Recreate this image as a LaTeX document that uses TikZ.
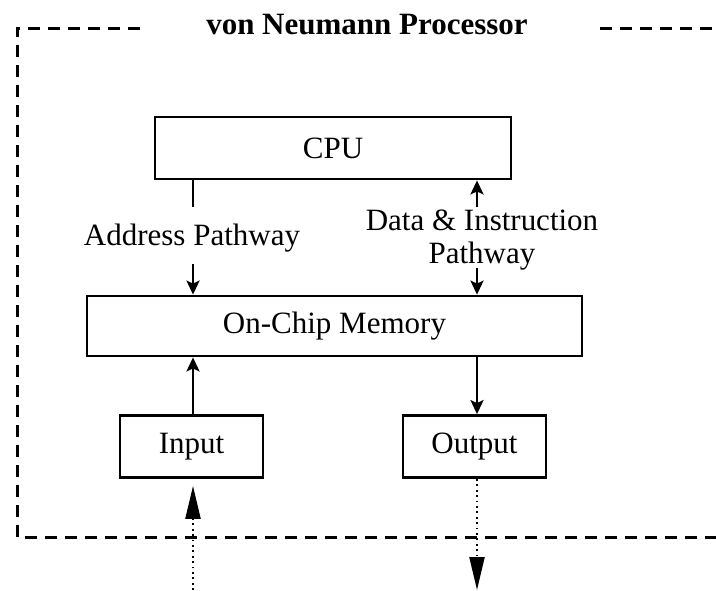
\documentclass[tikz,border=0pt]{standalone}
\usepackage{fontspec}
\setmainfont{Liberation Serif}
\usetikzlibrary{arrows.meta}
\begin{document}
\begin{tikzpicture}[x=1pt,y=-1pt,
  box/.style={draw,line width=2.8pt,minimum height=62pt,inner sep=0pt,font=\fontsize{31}{35}\selectfont},
  lbl/.style={align=center,inner sep=0pt,font=\fontsize{31}{33}\selectfont},
  link/.style={line width=2.6pt},
  arr/.style={link,-{Stealth[length=14pt,width=13pt,inset=3pt]}},
  ext/.style={line width=2.2pt,dash pattern=on 1.8pt off 3.6pt},
  frame/.style={line width=3pt,dash pattern=on 12pt off 8pt}]
\useasboundingbox (0,0) rectangle (716,590);
% processor boundary
\draw[frame] (140,28) -- (17,28) -- (17,537) -- (716,537);
\draw[frame] (600,28) -- (716,28);
\node[font=\bfseries\fontsize{31}{35}\selectfont,inner sep=0pt] (title) at (367,25) {von Neumann Processor};
% blocks
\node[box,minimum width=356pt] (cpu) at (333,148) {CPU};
\node[box,minimum width=495pt,minimum height=60pt] (mem) at (334.5,326) {On-Chip Memory};
\node[box,minimum width=143pt] (in) at (191.5,446.5) {Input};
\node[box,minimum width=143pt] (out) at (474.5,446.5) {Output};
% pathway labels
\node[lbl] (addr) at (192,238) {Address Pathway};
\node[lbl] (data) at (482,240) {Data \& Instruction\\Pathway};
\coordinate (a1) at (193,207);
\coordinate (a2) at (193,264);
\coordinate (d1) at (477,207);
\coordinate (d2) at (477,268);
\coordinate (ix) at (193,590);
\coordinate (ox) at (477,590);
% address pathway
\draw[link] (cpu.south -| a1) -- (a1);
\draw[arr] (a2) -- (mem.north -| a2);
% data & instruction pathway
\draw[arr] (d1) -- (cpu.south -| d1);
\draw[arr] (d2) -- (mem.north -| d2);
% memory to I/O
\draw[arr] (in.north -| a1) -- (mem.south -| a1);
\draw[arr] (mem.south -| d1) -- (out.north -| d1);
% external connections
\draw[ext,-{Triangle[length=33pt,width=15pt]},shorten >=7pt] (ix) -- (in.south -| ix);
\draw[ext,-{Triangle[length=33pt,width=15pt]}] (out.south -| ox) -- (ox);
\end{tikzpicture}
\end{document}
